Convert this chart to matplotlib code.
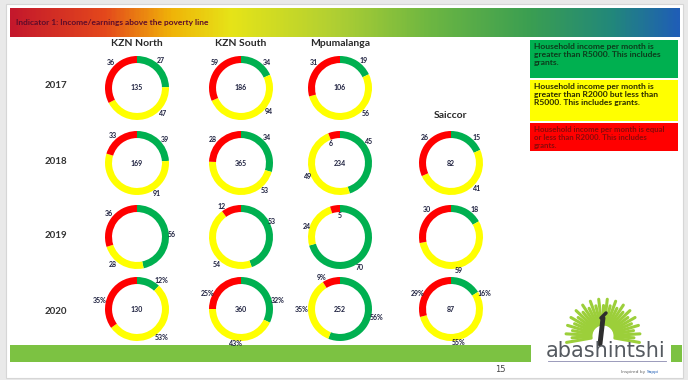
import numpy as np
import matplotlib.pyplot as plt
from matplotlib.colors import LinearSegmentedColormap
from matplotlib.patches import Rectangle

W, H = 688, 380

regions = ['KZN North', 'KZN South', 'Mpumalanga', 'Saiccor']
years = ['2017', '2018', '2019', '2020']

# slices run clockwise from 12 o'clock: green, yellow, red
kzn_north_green = [27, 39, 56, 12]
kzn_north_yellow = [47, 91, 28, 53]
kzn_north_red = [36, 33, 36, 35]
kzn_north_n = ['135', '169', '', '130']

kzn_south_green = [34, 34, 53, 32]
kzn_south_yellow = [94, 53, 54, 43]
kzn_south_red = [59, 28, 12, 25]
kzn_south_n = ['186', '365', '', '360']

mpum_green = [19, 45, 70, 56]
mpum_yellow = [56, 49, 24, 35]
mpum_red = [31, 6, 5, 9]
mpum_n = ['106', '234', '', '252']

saiccor_green = [None, 15, 18, 16]
saiccor_yellow = [None, 41, 59, 55]
saiccor_red = [None, 26, 30, 29]
saiccor_n = ['', '82', '', '87']

legend_text = [
    'Household income per month is\ngreater than R5000. This includes\ngrants.',
    'Household income per month is\ngreater than R2000 but less than\nR5000. This includes grants.',
    'Household income per month is equal\nor less than R2000. This includes\ngrants.',
]

GREEN = '#00b050'
YELLOW = '#ffff00'
RED = '#ff0000'
LABEL = '#1f2240'

# where the slide author dragged each data label (degrees, green/yellow/red)
label_angles = {
    (0, 1): [40, -60, 130], (0, 2): [5, -130, 140], (0, 3): [55, -55, 165],
    (1, 0): [45, -40, 135], (1, 1): [45, -50, 140], (1, 2): [30, -130, 120],
    (1, 3): [15, -100, 150],
    (2, 1): [35, -155, 115], (2, 2): [-60, 160, 90], (2, 3): [-15, 180, 115],
    (3, 1): [45, -45, 135], (3, 2): [50, -75, 130], (3, 3): [30, -75, 150],
}
inside_labels = {(2, 1, 2), (2, 2, 2)}

fig = plt.figure(figsize=(W / 100, H / 100), dpi=100, facecolor='#e9e9e9')

# background / slide furniture in pixel coordinates
bg = fig.add_axes([0, 0, 1, 1])
bg.add_patch(Rectangle((6, 4), 677, 374, fc='white', ec='#d6d6d6', lw=0.8))

rainbow = LinearSegmentedColormap.from_list('bar', [
    (0.0, '#c4182c'), (0.14, '#e4481c'), (0.24, '#f0b408'), (0.33, '#e6e418'),
    (0.48, '#b2d032'), (0.63, '#6cb642'), (0.78, '#3a9e52'), (0.9, '#22887a'),
    (1.0, '#1f5eb6')])
grad = np.linspace(0, 1, 400)[None, :]
bg.imshow(grad, cmap=rainbow, extent=(10, 680, 37, 8), aspect='auto', zorder=1)
bg.set_xlim(0, W)
bg.set_ylim(H, 0)
bg.axis('off')
bg.text(16, 22, 'Indicator 1: Income/earnings above the poverty line', fontsize=6,
        fontweight='bold', color='#5e0c2a', family='Lato', va='center', zorder=2)

# column headers and row labels
col_x = [137, 241, 340, 451]
row_y = [88, 163, 237, 309]
for name, x in zip(regions[:3], col_x[:3]):
    bg.text(x, 43, name, fontsize=7.5, fontweight='bold', family='Lato',
            color='#2a2a2a', ha='center', va='center')
bg.text(col_x[3], 115, regions[3], fontsize=7.5, fontweight='bold', family='Lato',
        color='#2a2a2a', ha='center', va='center')
for yr, y in zip(years, row_y):
    bg.text(56, y - 2 if yr != '2020' else y + 3, yr, fontsize=7, fontweight='bold',
            family='Lato', color='#333333', ha='center', va='center')

# legend boxes
boxes = [(40, 38, GREEN, '#0d3b1c'), (80, 41, YELLOW, '#2b2b00'), (123, 28, RED, '#8a0a0a')]
for (y0, h, fc, tc), txt in zip(boxes, legend_text):
    bg.add_patch(Rectangle((530, y0), 148, h, fc=fc, ec='none'))
    bg.text(534, y0 + 3, txt, fontsize=6.1 if fc != RED else 5.6, fontweight='bold',
            family='Lato', color=tc, va='top', ha='left', linespacing=1.15)

# bottom bar, page number and logo
bg.add_patch(Rectangle((10, 345), 521, 17, fc='#7cc242', ec='none'))
bg.add_patch(Rectangle((671, 345), 11, 17, fc='#7cc242', ec='none'))
bg.text(500, 370, '15', fontsize=6, color='#444444', ha='center', va='center')

cx, cy = 603, 336
ang = np.linspace(np.radians(-10), np.radians(190), 31)
for i, a in enumerate(ang):
    r0, r1 = 12, (37 if i % 2 == 0 else 31)
    bg.plot([cx + r0 * np.cos(a), cx + r1 * np.cos(a)],
            [cy - r0 * np.sin(a), cy - r1 * np.sin(a)],
            color='#9ccf3a', lw=2.2, solid_capstyle='round')
bg.plot([600, 603], [344, 318], color='#2e2e2e', lw=3.5, solid_capstyle='round')
bg.plot([601, 606], [318, 313], color='#2e2e2e', lw=2.5, solid_capstyle='round')
bg.text(606, 351, 'abashintshi', fontsize=15, color='#555a60', family='DejaVu Sans',
        ha='center', va='center')
bg.plot([548, 666], [361, 361], color='#8a8ab0', lw=0.6)
bg.text(645, 372, 'Inspired by', fontsize=3.2, color='#666666', ha='right', va='center')
bg.text(647, 372, 'Sappi', fontsize=3.2, color='#1f5eb6', ha='left', va='center')


def donut(col, row, x, y, vals, centre, pct):
    ax = fig.add_axes([(x - 40) / W, 1 - (y + 40) / H, 80 / W, 80 / H])
    ax.pie(vals, colors=[GREEN, YELLOW, RED], startangle=90, counterclock=False,
           radius=1, wedgeprops=dict(width=0.22, edgecolor='none'))
    angles = label_angles.get((col, row), [50, -45, 135])
    for k, (v, a) in enumerate(zip(vals, angles)):
        txt = f'{v}%' if pct else str(v)
        t = np.radians(a)
        if (col, row, k) in inside_labels:
            ax.text(0.66 * np.cos(t), 0.66 * np.sin(t), txt, fontsize=5, color=LABEL,
                    family='Lato', fontweight='bold', ha='center', va='center')
            continue
        c, s = np.cos(t), np.sin(t)
        ha = 'left' if c > 0.3 else ('right' if c < -0.3 else 'center')
        va = 'bottom' if s > 0.5 else ('top' if s < -0.5 else 'center')
        ax.text(0.97 * c, 0.97 * s, txt, fontsize=5, color=LABEL, family='Lato',
                fontweight='bold', ha=ha, va=va)
    if centre:
        ax.text(0, 0, centre, fontsize=5, color=LABEL, family='Lato',
                fontweight='bold', ha='center', va='center')
    ax.set_xlim(-1.25, 1.25)
    ax.set_ylim(-1.25, 1.25)
    ax.axis('off')


series = [
    (kzn_north_green, kzn_north_yellow, kzn_north_red, kzn_north_n),
    (kzn_south_green, kzn_south_yellow, kzn_south_red, kzn_south_n),
    (mpum_green, mpum_yellow, mpum_red, mpum_n),
    (saiccor_green, saiccor_yellow, saiccor_red, saiccor_n),
]
for col, (x, (g, yl, r, n)) in enumerate(zip(col_x, series)):
    for row, y in enumerate(row_y):
        if g[row] is None:
            continue
        donut(col, row, x, y, [g[row], yl[row], r[row]], n[row], years[row] == '2020')

fig.savefig('out.png', dpi=100, facecolor=fig.get_facecolor())
